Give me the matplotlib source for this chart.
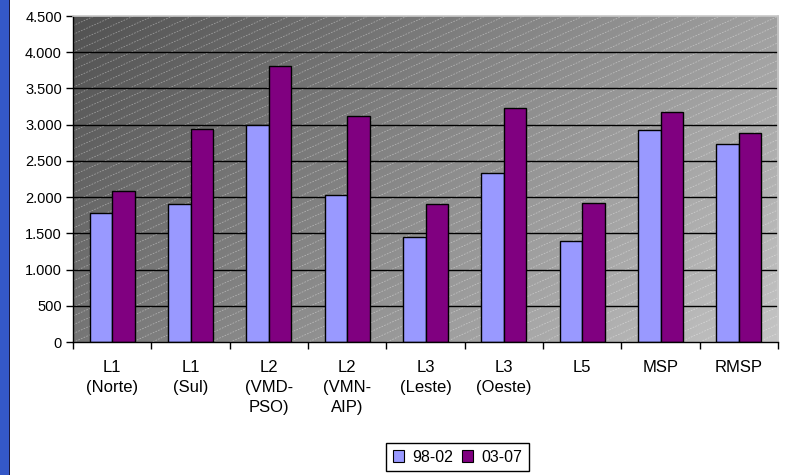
import numpy as np
import matplotlib
matplotlib.use("Agg")
import matplotlib.pyplot as plt
from matplotlib.patches import Rectangle
from matplotlib.collections import LineCollection
from matplotlib.ticker import FuncFormatter, MultipleLocator

plt.rcParams["font.family"] = ["Liberation Sans", "DejaVu Sans"]

# Data
categories = ["L1\n(Norte)", "L1\n(Sul)", "L2\n(VMD-\nPSO)", "L2\n(VMN-\nAIP)",
              "L3\n(Leste)", "L3\n(Oeste)", "L5", "MSP", "RMSP"]
series_names = ["98-02", "03-07"]
values_9802 = [1780, 1910, 3000, 2025, 1450, 2335, 1390, 2930, 2730]
values_0307 = [2085, 2935, 3815, 3115, 1900, 3225, 1915, 3170, 2880]
y_max = 4500
y_step = 500

colors = ["#9999FF", "#800080"]

W, H = 787, 475
fig = plt.figure(figsize=(W / 100, H / 100), dpi=100)
fig.patch.set_facecolor("white")

# blue strip along the left edge
fig.patches.append(Rectangle((0, 0), 9 / W, 1, transform=fig.transFigure,
                             facecolor="#3458C8", edgecolor="none", zorder=0))
fig.patches.append(Rectangle((9 / W, 0), 1.2 / W, 1, transform=fig.transFigure,
                             facecolor="#1a1a40", edgecolor="none", zorder=0))

ax_l, ax_r, ax_b, ax_t = 73, 778, 342, 16
ax = fig.add_axes([ax_l / W, 1 - ax_b / H, (ax_r - ax_l) / W, (ax_b - ax_t) / H])
pw, ph = ax_r - ax_l, ax_b - ax_t

# diagonal gray gradient background
gx = np.linspace(0, 1, 400)[None, :]
gy = np.linspace(0, 1, 200)[:, None]
t = (gx * pw + gy * ph) / (pw + ph)
shade = 0.32 + 0.45 * t
ax.imshow(np.dstack([shade, shade, shade]), extent=[0, 1, 0, 1], origin="upper",
          transform=ax.transAxes, aspect="auto", zorder=0, interpolation="bilinear")

# fine diagonal dashed texture
slope = 0.45
spacing = 8.8
segs = []
y0 = -slope * pw
while y0 < ph:
    segs.append([(0, y0 / ph), (1, (y0 + slope * pw) / ph)])
    y0 += spacing
lc = LineCollection(segs, transform=ax.transAxes, colors="white", linewidths=0.6,
                    alpha=0.38, linestyles=(0, (2, 1.5)), zorder=0.5)
ax.add_collection(lc)

x = np.arange(len(categories))
bw = 1 / 3.5
ax.bar(x - bw / 2, values_9802, bw, color=colors[0], edgecolor="black", linewidth=1,
       zorder=3, label=series_names[0])
ax.bar(x + bw / 2, values_0307, bw, color=colors[1], edgecolor="black", linewidth=1,
       zorder=3, label=series_names[1])

ax.set_xlim(-0.5, len(categories) - 0.5)
ax.set_ylim(0, y_max)

for yv in np.arange(y_step, y_max, y_step):
    ax.axhline(yv, color="black", linewidth=1, zorder=1)

ax.yaxis.set_major_locator(MultipleLocator(y_step))
ax.yaxis.set_major_formatter(FuncFormatter(lambda v, p: f"{int(v):,}".replace(",", ".")))
ax.tick_params(axis="y", direction="out", length=5, width=1, labelsize=10.5, pad=3,
               colors="black")

ax.set_xticks(x)
ax.set_xticklabels(categories, linespacing=1.4, va="top")
ax.set_xticks(np.arange(-0.5, len(categories)), minor=True)
ax.tick_params(axis="x", which="major", length=0, labelsize=12, pad=13)
ax.tick_params(axis="x", which="minor", direction="out", length=5, width=1)

for side in ("left", "bottom"):
    ax.spines[side].set_color("black")
    ax.spines[side].set_linewidth(1)
    ax.spines[side].set_zorder(4)
for side in ("top", "right"):
    ax.spines[side].set_color("#c8c8c8")
    ax.spines[side].set_linewidth(1.2)
    ax.spines[side].set_zorder(4)

handles = [Rectangle((0, 0), 1, 1, facecolor=c, edgecolor="black", linewidth=0.8)
           for c in colors]
leg = fig.legend(handles, series_names, ncol=2, loc="center",
                 bbox_to_anchor=(457.5 / W, 1 - 457 / H), bbox_transform=fig.transFigure,
                 frameon=True, fancybox=False, framealpha=1, edgecolor="black",
                 handlelength=0.7, handleheight=0.7, handletextpad=0.5,
                 columnspacing=0.6, borderpad=0.4, borderaxespad=0, fontsize=11.5)
leg.get_frame().set_linewidth(1)

fig.savefig("out.png", dpi=100, facecolor="white")
